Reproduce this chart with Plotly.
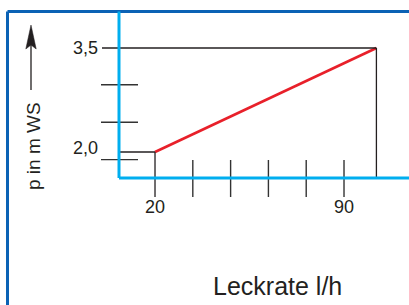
import plotly.graph_objects as go

# ---- data ----
leckrate = [20, 102]          # l/h
druck = [2.0, 3.5]            # p in m WS
x_ticks = [20, 34, 48, 62, 76, 90]
x_tick_labels = ["20", "", "", "", "", "90"]
y_minor_ticks = [2.97, 2.43, 1.89]
y_tick_values = [3.5, 2.0]
y_tick_labels = ["3,5", "2,0"]

W, H = 409, 305
XR = [-37.41, 114.07]
YR = [-0.2067, 4.1923]


def px_x(p):
    return XR[0] + p / W * (XR[1] - XR[0])


def px_y(p):
    return YR[1] - p / H * (YR[1] - YR[0])


CYAN = "#00aeef"
FRAME = "#0b62b5"
RED = "#e8202a"
INK = "#231f20"
FONT = "Liberation Sans, Arial, sans-serif"

ax_x = px_x(119)
ax_y = px_y(178)

fig = go.Figure()
fig.add_trace(go.Scatter(x=leckrate, y=druck, mode="lines",
                         line=dict(color=RED, width=2.6), hoverinfo="skip",
                         showlegend=False))

shapes = []


def seg(x0, y0, x1, y1, color=INK, width=1.3):
    shapes.append(dict(type="line", xref="x", yref="y",
                       x0=x0, y0=y0, x1=x1, y1=y1,
                       line=dict(color=color, width=width), layer="above"))


# outer frame (paper)
shapes.append(dict(type="line", xref="paper", yref="paper", x0=7.5 / W, x1=7.5 / W,
                   y0=1 - 11.5 / H, y1=0, line=dict(color=FRAME, width=3)))
shapes.append(dict(type="line", xref="paper", yref="paper", x0=7.5 / W, x1=1.0,
                   y0=1 - 11.5 / H, y1=1 - 11.5 / H, line=dict(color=FRAME, width=3)))

# reference lines
seg(px_x(102), druck[1], leckrate[1], druck[1])
seg(leckrate[1], druck[1], leckrate[1], ax_y)
seg(ax_x, druck[0], leckrate[0], druck[0])
seg(leckrate[0], druck[0], leckrate[0], px_y(197))
for xt in x_ticks[1:]:
    seg(xt, px_y(160), xt, px_y(197), color="#333333", width=1.4)
for yt in y_minor_ticks:
    seg(px_x(101), yt, px_x(138), yt, color="#333333", width=1.4)

# cyan axes
seg(ax_x, ax_y, ax_x, px_y(11.5), color=CYAN, width=3)
seg(ax_x, ax_y, XR[1], ax_y, color=CYAN, width=3)

# arrow
shapes.append(dict(type="line", xref="paper", yref="paper", x0=31 / W, x1=31 / W,
                   y0=1 - 90 / H, y1=1 - 44 / H, line=dict(color=INK, width=1.3)))
pts = [(31, 25), (36.2, 49), (31, 45), (25.8, 49)]
path = "M " + " L ".join(f"{p[0] / W:.5f},{1 - p[1] / H:.5f}" for p in pts) + " Z"
shapes.append(dict(type="path", xref="paper", yref="paper", path=path,
                   fillcolor=INK, line=dict(color=INK, width=0.5)))

annotations = []
for v, lab, shift in zip(y_tick_values, y_tick_labels, [0, 4]):
    annotations.append(dict(x=px_x(100), y=v, xref="x", yref="y", text=lab,
                            showarrow=False, xanchor="right", yanchor="middle",
                            yshift=shift, font=dict(family=FONT, size=18, color=INK)))
for v, lab in zip(x_ticks, x_tick_labels):
    if lab:
        annotations.append(dict(x=v, y=px_y(207), xref="x", yref="y", text=lab,
                                showarrow=False, xanchor="center", yanchor="middle",
                                font=dict(family=FONT, size=18, color=INK)))
annotations.append(dict(x=33 / W, y=1 - 146 / H, xref="paper", yref="paper",
                        text="p in m WS", textangle=-90, showarrow=False,
                        xanchor="center", yanchor="middle",
                        font=dict(family=FONT, size=19, color=INK)))
annotations.append(dict(x=277.5 / W, y=1 - 286 / H, xref="paper", yref="paper",
                        text="Leckrate l/h", showarrow=False,
                        xanchor="center", yanchor="middle",
                        font=dict(family=FONT, size=25, color=INK)))

fig.update_layout(
    width=W, height=H, margin=dict(l=0, r=0, t=0, b=0),
    paper_bgcolor="white", plot_bgcolor="white",
    xaxis=dict(range=XR, visible=False, fixedrange=True),
    yaxis=dict(range=YR, visible=False, fixedrange=True),
    shapes=shapes, annotations=annotations, showlegend=False,
)
fig.write_html("out.html", config={"displayModeBar": False},
               post_script="document.body.style.margin='0';document.body.style.overflow='hidden';")
